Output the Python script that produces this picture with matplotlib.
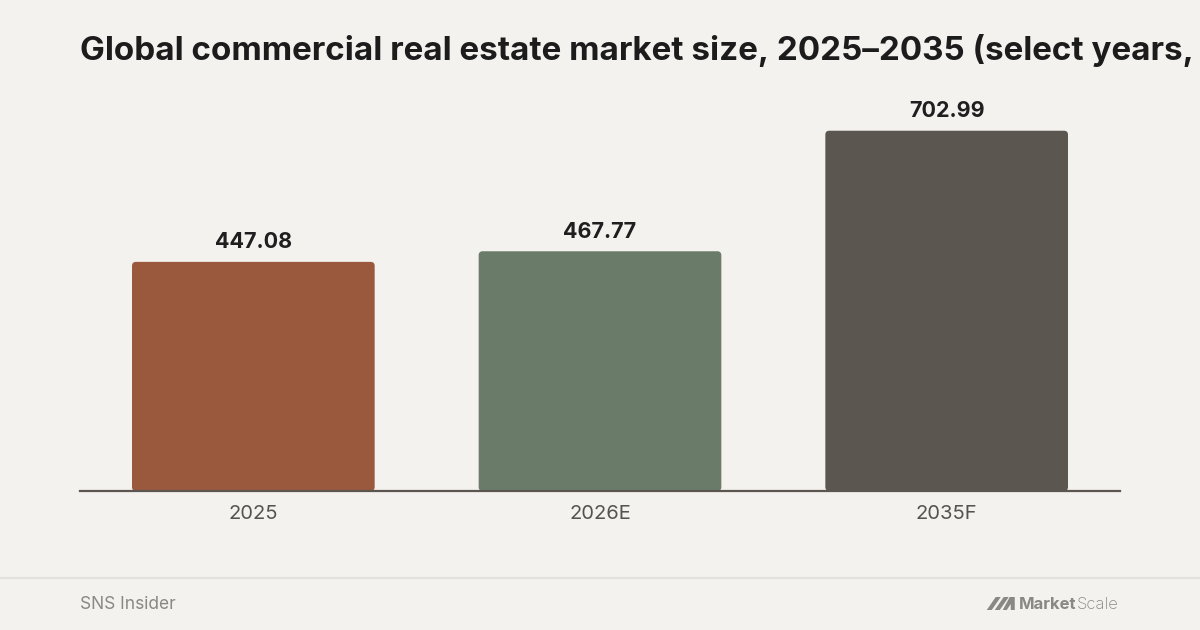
"""Global commercial real estate market size bar chart."""

import matplotlib

matplotlib.use("Agg")
import matplotlib.pyplot as plt
from matplotlib.patches import FancyBboxPatch, Polygon

# Data
categories = ["2025", "2026E", "2035F"]
values = [447.08, 467.77, 702.99]
bar_colors = ["#9a593d", "#6b7b6a", "#5b5750"]

# the source image cuts the title at the right edge; keep the visible part
title = "Global commercial real estate market size, 2025\u20132035 (select years,"
source = "SNS Insider"

BG = "#f4f2ee"
W, H = 1200, 630

plt.rcParams["font.family"] = ["Inter", "DejaVu Sans"]

fig = plt.figure(figsize=(W / 100, H / 100), dpi=100, facecolor=BG)

# plot area: x 80..1120 px, baseline at y=491 px
ax = fig.add_axes([80 / W, (H - 491) / H, 1040 / W, 410 / H])
ax.set_facecolor(BG)

x = range(len(categories))
bars = ax.bar(x, values, width=0.70, color=bar_colors, zorder=2)
ax.set_xlim(-0.5, len(categories) - 0.5)
ax.set_ylim(0, 800)

# swap the square bars for ones with slightly rounded corners (~4 px)
fig.canvas.draw()
px_per_x = ax.transData.transform((1, 0))[0] - ax.transData.transform((0, 0))[0]
px_per_y = ax.transData.transform((0, 1))[1] - ax.transData.transform((0, 0))[1]
rad_x = 4 / px_per_x
aspect = (4 / px_per_y) / rad_x
for rect in bars:
    rect.set_visible(False)
    ax.add_patch(FancyBboxPatch(
        (rect.get_x(), rect.get_y()), rect.get_width(), rect.get_height(),
        boxstyle=f"round,pad=0,rounding_size={rad_x}",
        mutation_aspect=aspect,
        facecolor=rect.get_facecolor(), edgecolor="none", zorder=2,
    ))

for rect, v in zip(bars, values):
    ax.annotate(
        f"{v:.2f}",
        (rect.get_x() + rect.get_width() / 2, v),
        xytext=(0, 7),
        textcoords="offset points",
        ha="center",
        va="bottom",
        fontsize=15.5,
        fontweight="bold",
        color="#1f1f1f",
    )

ax.set_xticks(list(x))
ax.set_xticklabels(categories, fontsize=14.5, color="#555350")
ax.tick_params(axis="x", length=0, pad=10)
ax.set_yticks([])
for side in ("top", "right", "left"):
    ax.spines[side].set_visible(False)
ax.spines["bottom"].set_color("#5b5750")
ax.spines["bottom"].set_linewidth(1.6)
ax.spines["bottom"].set_zorder(3)

fig.text(80 / W, 1 - 60 / H, title, fontsize=23.9, fontweight="bold",
         color="#1c1c1c", ha="left", va="baseline")

# footer
fig.add_artist(plt.Line2D([0, 1], [1 - 578 / H, 1 - 578 / H],
                          color="#e4e1dc", linewidth=1.5))
fig.text(80 / W, 1 - 609 / H, source, fontsize=12.5, color="#8a8884",
         ha="left", va="baseline")

# MarketScale logo
logo_color = "#8a8884"
t_scale = fig.text(1119 / W, 1 - 609 / H, "Scale", fontsize=12,
                   fontweight="light", color=logo_color,
                   ha="right", va="baseline")
renderer = fig.canvas.get_renderer()
left_px = t_scale.get_window_extent(renderer).x0
t_market = fig.text((left_px - 1) / W, 1 - 609 / H, "Market", fontsize=12,
                    fontweight="bold", color=logo_color,
                    ha="right", va="baseline")
# small slanted mark, placed just left of the word
ix = t_market.get_window_extent(renderer).x0 - 4
icon = [
    [(-28, 610), (-19, 597), (-14, 597), (-23, 610)],
    [(-20, 610), (-11, 597), (-6, 597), (-15, 610)],
    [(-12, 610), (-5, 597), (0, 597), (0, 610), (-4, 610), (-4, 604), (-8, 610)],
]
for pts in icon:
    fig.add_artist(Polygon([((ix + px) / W, 1 - py / H) for px, py in pts],
                           closed=True, transform=fig.transFigure,
                           facecolor=logo_color, edgecolor="none"))

fig.savefig("out.png", dpi=100, facecolor=BG)
